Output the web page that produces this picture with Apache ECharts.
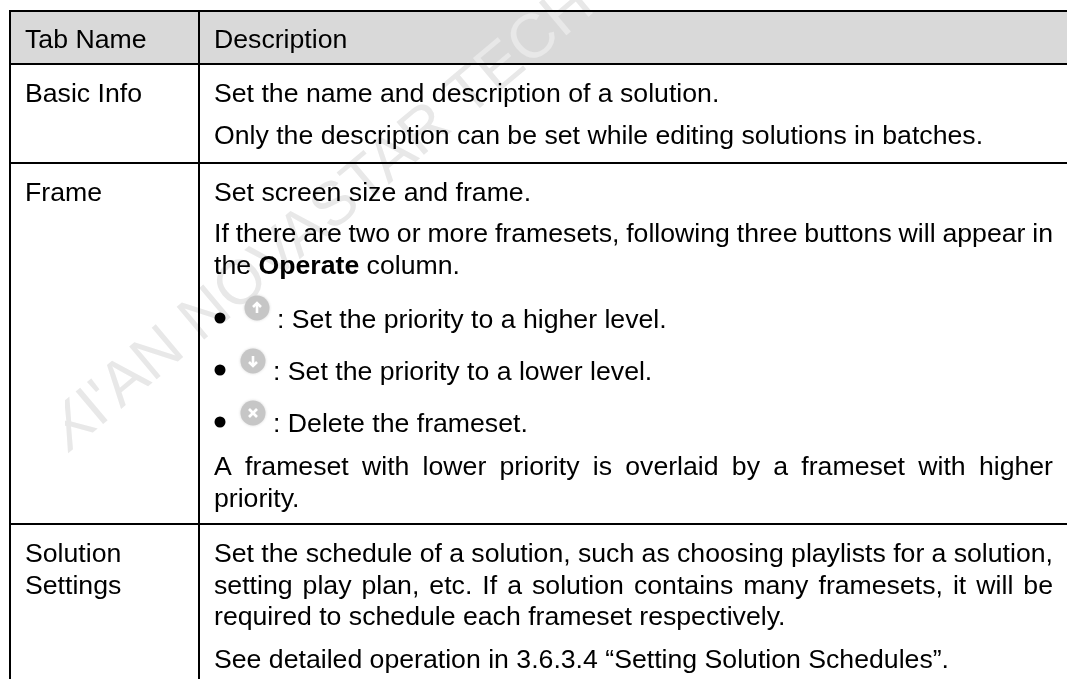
<!DOCTYPE html>
<html>
<head>
<meta charset="utf-8">
<style>html,body{margin:0;padding:0;background:#fff}#main{width:1067px;height:679px}</style>
<script src="https://cdn.jsdelivr.net/npm/echarts@6/dist/echarts.min.js"></script>
</head>
<body>
<div id="main"></div>
<script>
const headers = ['Tab Name', 'Description'];
const tabNames = [['Basic Info'], ['Frame'], ['Solution', 'Settings']];
const basicLines = ['Set the name and description of a solution.', 'Only the description can be set while editing solutions in batches.'];
const frameLines = ['Set screen size and frame.', 'If there are two or more framesets, following three buttons will appear in'];
const frameBullets = [': Set the priority to a higher level.', ': Set the priority to a lower level.', ': Delete the frameset.'];
const frameNote = ['A frameset with lower priority is overlaid by a frameset with higher', 'priority.'];
const solutionLines = ['Set the schedule of a solution, such as choosing playlists for a solution,', 'setting play plan, etc. If a solution contains many framesets, it will be', 'required to schedule each frameset respectively.', 'See detailed operation in 3.6.3.4 \u201cSetting Solution Schedules\u201d.'];
const watermark = "XI'AN NOVASTAR TECH";

const font = '26.67px "Liberation Sans"';
const boldFont = 'bold 26.67px "Liberation Sans"';
const ink = '#000';
const g = [];

const measure = document.createElement('canvas').getContext('2d');
measure.font = font;

// y is the baseline, the box bottom is about 6px under it
function text(x, y, s, f) {
    g.push({ type: 'text', x: x, y: y + 6, style: { text: s, font: f || font, fill: ink, verticalAlign: 'bottom' } });
}

// justified line: one text per word
function justified(x, right, y, s) {
    const words = s.split(' ');
    let used = 0;
    words.forEach(w => { used += measure.measureText(w).width; });
    const gap = (right - x - used) / (words.length - 1);
    let cx = x;
    words.forEach(w => {
        text(cx, y, w);
        cx += measure.measureText(w).width + gap;
    });
}

function rule(x1, y1, x2, y2) {
    g.push({ type: 'line', shape: { x1: x1, y1: y1, x2: x2, y2: y2 }, style: { stroke: '#000', lineWidth: 2 } });
}

function icon(cx, cy, kind) {
    g.push({ type: 'circle', shape: { cx: cx, cy: cy, r: 12.5 }, style: { fill: '#c6c6c6', shadowBlur: 3, shadowColor: '#d8d8d8' } });
    const white = { stroke: '#fff', lineWidth: 2.6, fill: null };
    if (kind === 'x') {
        g.push({ type: 'line', shape: { x1: cx - 4, y1: cy - 4, x2: cx + 4, y2: cy + 4 }, style: white });
        g.push({ type: 'line', shape: { x1: cx - 4, y1: cy + 4, x2: cx + 4, y2: cy - 4 }, style: white });
    } else {
        const d = kind === 'up' ? -1 : 1;
        g.push({ type: 'line', shape: { x1: cx, y1: cy - 5 * d, x2: cx, y2: cy + 5 * d }, style: white });
        g.push({ type: 'polyline', shape: { points: [[cx - 4, cy + d], [cx, cy + 5 * d], [cx + 4, cy + d]] }, style: white });
    }
}

// header band
g.push({ type: 'rect', shape: { x: 10, y: 11, width: 1057, height: 53 }, style: { fill: '#d9d9d9' } });

// watermark sits over the band but under the text
g.push({ type: 'text', x: 76, y: 465, rotation: 40 * Math.PI / 180, style: { text: watermark, font: '62px "Liberation Sans"', fill: '#e8e8e8', verticalAlign: 'bottom' } });
// the X of the watermark is cut off on its left side
g.push({ type: 'rect', shape: { x: 12, y: 380, width: 53, height: 100 }, style: { fill: '#fff' } });

// table lines
rule(9, 11, 1067, 11);
rule(9, 64, 1067, 64);
rule(9, 163, 1067, 163);
rule(9, 524, 1067, 524);
rule(10, 10, 10, 679);
rule(199, 10, 199, 679);

const colA = 25, colB = 214, right = 1053;

text(colA, 48, headers[0]);
text(colB, 48, headers[1]);

text(colA, 102, tabNames[0][0]);
text(colB, 102, basicLines[0]);
text(colB, 144, basicLines[1]);

text(colA, 201, tabNames[1][0]);
text(colB, 201, frameLines[0]);
justified(colB, right, 242, frameLines[1]);
text(colB, 274, 'the');
const theW = measure.measureText('the ').width;
text(colB + theW, 274, 'Operate', boldFont);
measure.font = boldFont;
const opW = measure.measureText('Operate ').width;
measure.font = font;
text(colB + theW + opW, 274, 'column.');

const bulletY = [328, 380, 432];
const iconX = [257, 253, 253];
const iconY = [308, 361, 413];
const kinds = ['up', 'down', 'x'];
const labelX = [277, 273, 273];
frameBullets.forEach((s, i) => {
    g.push({ type: 'circle', shape: { cx: 220, cy: bulletY[i] - 10, r: 5.5 }, style: { fill: '#000' } });
    icon(iconX[i], iconY[i], kinds[i]);
    text(labelX[i], bulletY[i], s);
});

justified(colB, right, 475, frameNote[0]);
text(colB, 507, frameNote[1]);

text(colA, 562, tabNames[2][0]);
text(colA, 594, tabNames[2][1]);
justified(colB, right, 562, solutionLines[0]);
justified(colB, right, 594, solutionLines[1]);
text(colB, 625, solutionLines[2]);
text(colB, 668, solutionLines[3]);

const chart = echarts.init(document.getElementById('main'), null, { renderer: 'canvas' });
chart.setOption({ animation: false, backgroundColor: '#fff', graphic: { elements: g } });
</script>
</body>
</html>
